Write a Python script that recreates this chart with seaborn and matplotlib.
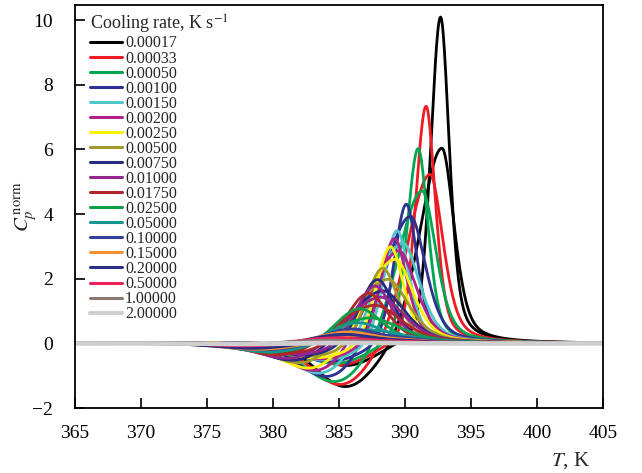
import numpy as np
import pandas as pd
import seaborn as sns
import matplotlib
matplotlib.use("Agg")
import matplotlib.pyplot as plt
from matplotlib.lines import Line2D

# ---- data ----
rates = ["0.00017", "0.00033", "0.00050", "0.00100", "0.00150", "0.00200", "0.00250",
         "0.00500", "0.00750", "0.01000", "0.01750", "0.02500", "0.05000", "0.10000",
         "0.15000", "0.20000", "0.50000", "1.00000", "2.00000"]
colors = ["#000000", "#ed1c24", "#00a651", "#2e3192", "#4fc6c8", "#b0228c", "#fff200",
          "#a0992c", "#262a7f", "#92278f", "#b1262c", "#0d9f4a", "#17958f", "#34409a",
          "#f7902f", "#2b2f86", "#ee2059", "#8a7872", "#cfcfcf"]
# main (tall) peak of each rate: position (K), height, half width (K)
peakA_T = [392.7, 391.6, 391.0, 390.1, 389.4, 389.2, 388.9, 388.3, 387.9, 387.7,
           387.2, 386.5, 386.3, 385.8, 385.4, 385.1, 384.5, 384.0, 383.0]
peakA_h = [10.1, 7.35, 6.05, 4.35, 3.55, 3.3, 3.05, 2.4, 2.05, 1.85,
           1.62, 1.15, 0.7, 0.5, 0.4, 0.32, 0.2, 0.12, 0.03]
peakA_w = [0.8, 0.85, 0.9, 1.0, 1.1, 1.15, 1.2, 1.4, 1.5, 1.6,
           1.8, 2.1, 2.5, 2.8, 3.0, 3.2, 3.6, 4.0, 5.0]
# second run of each rate: lower peak preceded by a negative dip
peakB_T = [392.8, 391.9, 391.3, 390.4, 389.8, 389.5, 389.2, 388.6, 388.2, 388.0,
           387.5, 387.0, 386.7, 386.1, 385.7, 385.4, 384.7, 384.2, 383.2]
peakB_h = [6.05, 5.25, 4.75, 4.0, 3.2, 2.95, 2.7, 2.1, 1.75, 1.55,
           1.3, 0.9, 0.5, 0.38, 0.28, 0.22, 0.15, 0.09, 0.02]
dip_T = [385.6, 385.2, 384.8, 384.4, 384.0, 383.7, 383.4, 383.0, 382.6, 382.3,
         381.8, 381.3, 380.8, 380.3, 379.8, 379.3, 378.8, 378.3, 378.0]
dip_h = [1.45, 1.4, 1.32, 1.2, 1.12, 1.05, 0.98, 0.88, 0.8, 0.74,
         0.66, 0.57, 0.48, 0.4, 0.34, 0.28, 0.17, 0.09, 0.04]
dip_w = [2.3, 2.3, 2.4, 2.5, 2.6, 2.6, 2.7, 2.8, 2.9, 3.0,
         3.1, 3.2, 3.3, 3.4, 3.5, 3.6, 3.7, 3.9, 4.0]

x_ticks = [365, 370, 375, 380, 385, 390, 395, 400, 405]
y_ticks = [-2, 0, 2, 4, 6, 8, 10]

T = np.linspace(365, 405, 801)


def peak(t, t0, h, wl, wr):
    w = np.where(t < t0, wl, wr)
    eta = np.where(t < t0, 0.3, 0.5)
    x = (t - t0) / w
    return h * (eta / (1 + x ** 2) + (1 - eta) * np.exp(-np.log(2) * x ** 2))


def dip(t, t0, h, s):
    return -h * np.exp(-0.5 * ((t - t0) / s) ** 2)


frames = []
for i, r in enumerate(rates):
    wa = peakA_w[i]
    ya = peak(T, peakA_T[i], peakA_h[i], wa * 1.1, wa) + dip(T, dip_T[i], dip_h[i] * 0.5, dip_w[i])
    yb = peak(T, peakB_T[i], peakB_h[i], wa * 2.4, wa * 1.4) + dip(T, dip_T[i], dip_h[i], dip_w[i])
    frames.append(pd.DataFrame({"T": T, "Cp": ya, "rate": r, "run": f"{r}a"}))
    frames.append(pd.DataFrame({"T": T, "Cp": yb, "rate": r, "run": f"{r}b"}))
df = pd.concat(frames, ignore_index=True)

sns.set_theme(style="ticks")
plt.rcParams["font.family"] = ["Liberation Serif", "DejaVu Serif"]
plt.rcParams["mathtext.fontset"] = "stix"

fig = plt.figure(figsize=(6.42, 4.73), dpi=100)
ax = fig.add_axes([0.117, 0.137, 0.822, 0.852])

palette = dict(zip(rates, colors))
sns.lineplot(data=df, x="T", y="Cp", hue="rate", units="run", estimator=None,
             palette=palette, hue_order=rates, linewidth=2.0, legend=False,
             ax=ax, sort=False)
for line in ax.lines:
    if line.get_color() in ("#cfcfcf",):
        line.set_linewidth(3)

ax.set_xlim(365, 405)
ax.set_ylim(-2, 10.46)
ax.set_xticks(x_ticks)
ax.set_yticks(y_ticks)
ax.set_yticklabels(["\u22122" if v == -2 else str(v) for v in y_ticks])
ax.tick_params(direction="in", length=7, width=1.2, labelsize=14, colors="black")
ax.tick_params(axis="y", pad=16)
ax.tick_params(axis="x", pad=12)
for s in ax.spines.values():
    s.set_linewidth(1.3)
    s.set_color("black")

ax.set_xlabel("$T$, K", fontsize=15, loc="right")
ax.xaxis.set_label_coords(0.975, -0.105)
ax.set_ylabel(r"$C_p^{\,\mathrm{norm}}$", fontsize=15)
ax.yaxis.set_label_coords(-0.068, 0.5)

handles = [Line2D([], [], color=c, lw=3 if c == "#cfcfcf" else 2.2) for c in colors]
leg = ax.legend(handles, rates, title="Cooling rate, K s$^{-1}$", loc="upper left",
                bbox_to_anchor=(0.028, 0.98), frameon=False, fontsize=11.5,
                title_fontsize=13, labelspacing=-0.06, handlelength=2.0,
                handletextpad=0.2, borderpad=0, borderaxespad=0, alignment="left")

fig.savefig("out.png", dpi=100)
